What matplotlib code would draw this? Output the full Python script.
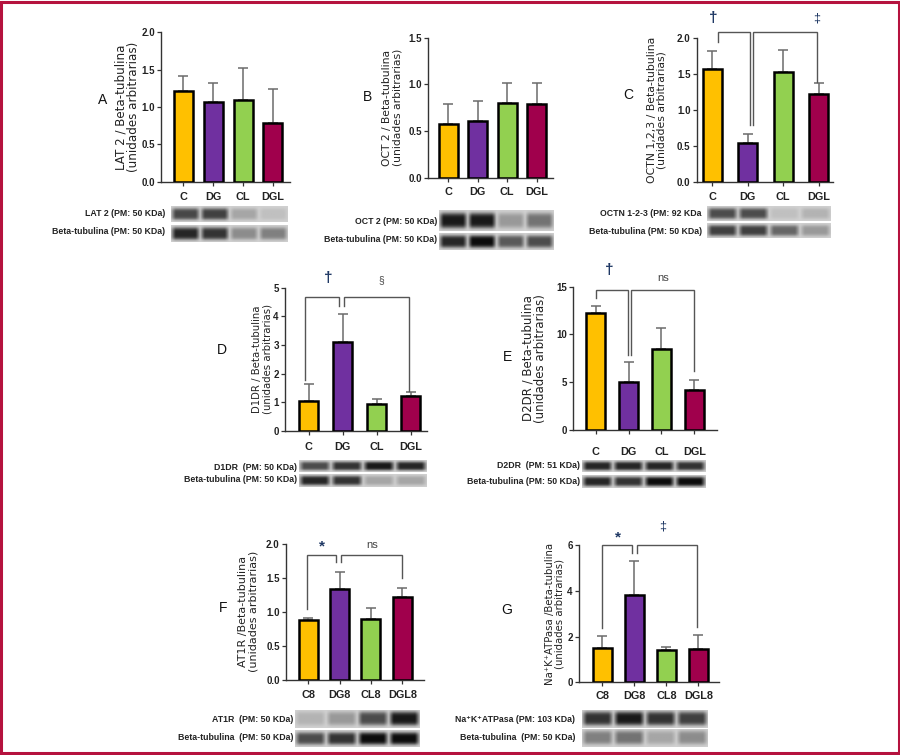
import numpy as np
import matplotlib
matplotlib.use("Agg")
import matplotlib.pyplot as plt
from matplotlib.patches import Rectangle

plt.rcParams['font.family'] = ['Liberation Sans', 'DejaVu Sans']

# ---------------- data ----------------
groups_main = ["C", "DG", "CL", "DGL"]
groups_8 = ["C8", "DG8", "CL8", "DGL8"]
bar_colors = ["#FFC000", "#7030A0", "#92D050", "#A0004C"]

lat2_mean = [1.21, 1.07, 1.10, 0.78]
lat2_sd = [0.20, 0.25, 0.42, 0.46]
oct2_mean = [0.58, 0.61, 0.80, 0.79]
oct2_sd = [0.21, 0.21, 0.21, 0.22]
octn_mean = [1.57, 0.54, 1.53, 1.23]
octn_sd = [0.25, 0.12, 0.30, 0.15]
d1dr_mean = [1.05, 3.11, 0.93, 1.21]
d1dr_sd = [0.58, 0.97, 0.17, 0.13]
d2dr_mean = [12.28, 5.02, 8.50, 4.19]
d2dr_sd = [0.73, 2.06, 2.22, 1.08]
at1r_mean = [0.88, 1.33, 0.90, 1.22]
at1r_sd = [0.025, 0.25, 0.16, 0.13]
nak_mean = [1.50, 3.80, 1.41, 1.47]
nak_sd = [0.52, 1.50, 0.15, 0.60]

# blot lane darkness (0 = white, 1 = black): target row, tubulin row
blot_a = [[0.72, 0.75, 0.35, 0.25], [0.85, 0.80, 0.45, 0.50]]
blot_b = [[0.90, 0.90, 0.40, 0.55], [0.85, 0.95, 0.65, 0.70]]
blot_c = [[0.70, 0.70, 0.25, 0.30], [0.75, 0.75, 0.60, 0.40]]
blot_d = [[0.70, 0.80, 0.90, 0.85], [0.85, 0.80, 0.35, 0.35]]
blot_e = [[0.85, 0.85, 0.85, 0.80], [0.85, 0.80, 0.95, 0.95]]
blot_f = [[0.30, 0.40, 0.70, 0.90], [0.70, 0.80, 0.95, 0.95]]
blot_g = [[0.80, 0.90, 0.80, 0.75], [0.50, 0.55, 0.35, 0.45]]

W, H = 900, 755
fig = plt.figure(figsize=(9, 7.55), dpi=100)

def rect(x0, x1, ytop, ybot):
    return [x0 / W, 1 - ybot / H, (x1 - x0) / W, (ybot - ytop) / H]

AX_COL = "#333333"
ERR_COL = "#6b6b6b"
BR_COL = "#555555"
SYM_COL = "#1F3864"

def draw_blot(x0, x1, ytop, ybot, lanes):
    ax = fig.add_axes(rect(x0, x1, ytop, ybot))
    ax.axis('off')
    nx, ny = 240, 24
    u = (np.arange(nx) + 0.5) / nx * 4
    idx = np.floor(u).astype(int)
    frac = u - idx
    hprof = np.clip(np.minimum(frac, 1 - frac) / 0.16, 0, 1) ** 0.7
    v = np.linspace(-1, 1, ny)
    vprof = np.exp(-(v / 0.75) ** 4)
    bg = 0.18
    lanes = np.asarray(lanes)
    dark = bg + (lanes[idx][None, :] - bg) * hprof[None, :] * vprof[:, None]
    ax.imshow(dark, cmap='gray_r', vmin=0, vmax=1, aspect='auto',
              interpolation='bicubic')

ylabel_jobs = []

def panel(means, sds, labels, spine, first, step, end, ytop, y0, ymax,
          yticks, ytick_fmt, ylabel, ylab_right, ylab_len, letter, letter_xy,
          xpad, brackets=(), symbols=()):
    ax = fig.add_axes(rect(spine, end, ytop, y0))
    x = np.arange(len(means))
    bw = 19.0 / step
    ax.bar(x, means, width=bw, color=bar_colors, edgecolor="black",
           linewidth=1.8, zorder=3)
    ax.errorbar(x, means, yerr=[np.zeros(len(sds)), sds], fmt='none',
                ecolor=ERR_COL, elinewidth=1.1, capsize=3.5, capthick=1.1,
                zorder=2)
    ax.set_xlim((spine - first) / step, (end - first) / step)
    ax.set_ylim(0, ymax)
    ax.set_yticks(yticks)
    ax.set_yticklabels([ytick_fmt.format(t) for t in yticks],
                       fontsize=7.0, fontweight='bold', color="#222222")
    ax.set_xticks(x)
    ax.set_xticklabels(labels, fontsize=7.8, fontweight='bold',
                       color="#222222")
    ax.tick_params(axis='both', direction='out', length=3, width=0.9,
                   color=AX_COL)
    ax.tick_params(axis='x', pad=xpad)
    ax.tick_params(axis='y', pad=1.5)
    for s in ['top', 'right']:
        ax.spines[s].set_visible(False)
    for s in ['left', 'bottom']:
        ax.spines[s].set_color(AX_COL)
        ax.spines[s].set_linewidth(1.0)
    ax.patch.set_alpha(0)
    ax.set_ylabel(ylabel, fontsize=7.6, linespacing=0.98, color="#222222",
                  family=['DejaVu Sans'])
    ax.yaxis.set_label_coords((ylab_right - spine) / (end - spine), 0.5)
    ylabel_jobs.append((ax, ylab_len))
    for (xa, xb, yt, ya, yb) in brackets:
        ax.plot([xa, xa, xb, xb], [ya, yt, yt, yb], color=BR_COL, lw=1.0,
                clip_on=False, zorder=4, solid_joinstyle='miter')
    for (sx, sy, txt, fs, col, fw) in symbols:
        ax.text(sx, sy, txt, ha='center', va='center', fontsize=fs,
                color=col, fontweight=fw, clip_on=False)
    fig.text(letter_xy[0] / W, 1 - letter_xy[1] / H, letter, fontsize=10,
             ha='center', va='center', color="#111111")
    return ax

def blot_labels(xr, y1, y2, t1, t2):
    fig.text(xr / W, 1 - y1 / H, t1, ha='right', va='center', fontsize=6.3,
             fontweight='bold', color="#222222")
    fig.text(xr / W, 1 - y2 / H, t2, ha='right', va='center', fontsize=6.3,
             fontweight='bold', color="#222222")

# Panel A
panel(lat2_mean, lat2_sd, groups_main, 161, 183.3, 29.85, 290, 32.3, 181.7,
      2.0, [0, 0.5, 1.0, 1.5, 2.0], "{:.1f}",
      "LAT 2 / Beta-tubulina\n(unidades arbitrarias)", 140, 130, "A", (103, 100), 4.5)
blot_labels(165, 213, 231, "LAT 2 (PM: 50 KDa)", "Beta-tubulina (PM: 50 KDa)")
draw_blot(171, 288, 206, 222, blot_a[0])
draw_blot(171, 288, 225, 242, blot_a[1])

# Panel B
panel(oct2_mean, oct2_sd, groups_main, 428, 448.1, 29.55, 553, 37.7, 177.7,
      1.5, [0, 0.5, 1.0, 1.5], "{:.1f}",
      "OCT 2 / Beta-tubulina\n(unidades arbitrarias)", 402, 118, "B", (367, 97), 4)
blot_labels(437, 221, 240, "OCT 2 (PM: 50 KDa)", "Beta-tubulina (PM: 50 KDa)")
draw_blot(439, 554, 210, 231, blot_b[0])
draw_blot(439, 554, 233, 250, blot_b[1])

# Panel C
panel(octn_mean, octn_sd, groups_main, 696.7, 712, 35.5, 833, 38.3, 181.7,
      2.0, [0, 0.5, 1.0, 1.5, 2.0], "{:.1f}",
      "OCTN 1,2,3 / Beta-tubulina\n(unidades arbitrarias)", 667, 146, "C", (628, 95), 4.5,
      brackets=[(0.17, 1.06, 2.085, 1.944, 0.79), (1.16, 2.96, 2.085, 0.79, 1.386)],
      symbols=[(0.03, 2.28, "†", 11, SYM_COL, 'bold'),
               (2.96, 2.28, "‡", 9, SYM_COL, 'normal')])
blot_labels(702, 214, 231, "OCTN 1-2-3 (PM: 92 KDa", "Beta-tubulina (PM: 50 KDa)")
draw_blot(707, 831, 206, 221, blot_c[0])
draw_blot(707, 831, 223, 238, blot_c[1])

# Panel D
panel(d1dr_mean, d1dr_sd, groups_main, 285, 308.6, 34.1, 427, 287.7, 430.7,
      5, [0, 1, 2, 3, 4, 5], "{:.0f}",
      "D1DR / Beta-tubulina\n(unidades arbitrarias)", 272, 110, "D", (222, 350), 5,
      brackets=[(-0.1, 0.9, 4.66, 1.77, 4.37), (1.05, 2.95, 4.66, 4.37, 1.39)],
      symbols=[(0.57, 5.34, "†", 11, SYM_COL, 'bold'),
               (2.14, 5.27, "§", 7.5, "#444444", 'normal')])
blot_labels(297, 467, 479, "D1DR  (PM: 50 KDa)", "Beta-tubulina (PM: 50 KDa)")
draw_blot(299, 427, 460, 472, blot_d[0])
draw_blot(299, 427, 474, 487, blot_d[1])

# Panel E
panel(d2dr_mean, d2dr_sd, groups_main, 573, 595.8, 32.8, 717, 286.7, 430,
      15, [0, 5, 10, 15], "{:.0f}",
      "D2DR / Beta-tubulina\n(unidades arbitrarias)", 547, 128, "E", (507, 357), 9,
      brackets=[(0.0, 0.97, 14.66, 13.82, 7.85), (1.08, 2.98, 14.66, 7.85, 6.18)],
      symbols=[(0.40, 16.75, "†", 11, SYM_COL, 'bold'),
               (2.04, 15.9, "ns", 8, "#444444", 'normal')])
blot_labels(580, 465, 482, "D2DR  (PM: 51 KDa)", "Beta-tubulina (PM: 50 KDa)")
draw_blot(582, 706, 460, 472, blot_e[0])
draw_blot(582, 706, 475, 488, blot_e[1])

# Panel F
panel(at1r_mean, at1r_sd, groups_8, 286, 308.1, 31.4, 424, 543.5, 680,
      2.0, [0, 0.5, 1.0, 1.5, 2.0], "{:.1f}",
      "AT1R /Beta-tubulina\n(unidades arbitrarias)", 258, 122, "F", (223, 608), 4,
      brackets=[(-0.05, 0.9, 1.83, 1.04, 1.73), (1.05, 3.0, 1.83, 1.73, 1.50)],
      symbols=[(0.44, 1.95, "*", 11, SYM_COL, 'bold'),
               (2.03, 1.98, "ns", 8, "#444444", 'normal')])
blot_labels(293, 719, 738, "AT1R  (PM: 50 KDa)", "Beta-tubulina  (PM: 50 KDa)")
draw_blot(295, 420, 710, 728, blot_f[0])
draw_blot(295, 420, 730, 747, blot_f[1])

# Panel G
panel(nak_mean, nak_sd, groups_8, 579, 602.45, 31.97, 719, 545, 682.3,
      6, [0, 2, 4, 6], "{:.0f}",
      "Na⁺K⁺ATPasa /Beta-tubulina\n(unidades arbitrarias)", 565, 142, "G", (507, 610), 3.5,
      brackets=[(0.0, 0.93, 6.02, 2.37, 5.65), (1.07, 2.96, 6.02, 5.65, 2.43)],
      symbols=[(0.49, 6.34, "*", 11, SYM_COL, 'bold'),
               (1.88, 6.79, "‡", 9, SYM_COL, 'normal')])
blot_labels(575, 720, 737, "Na⁺K⁺ATPasa (PM: 103 KDa)", "Beta-tubulina  (PM: 50 KDa)")
draw_blot(582, 708, 710, 728, blot_g[0])
draw_blot(582, 708, 729, 747, blot_g[1])

# scale y-labels to the lengths seen in the reference
fig.canvas.draw()
renderer = fig.canvas.get_renderer()
for ax, target in ylabel_jobs:
    lab = ax.yaxis.label
    h = lab.get_window_extent(renderer).height
    lab.set_fontsize(lab.get_fontsize() * target / h)

# figure border
fig.patches.append(Rectangle((0.0015, 0.002), 0.997, 0.996, transform=fig.transFigure,
                             fill=False, edgecolor="#B5123E", linewidth=2.2))

fig.savefig("out.png", dpi=100)
